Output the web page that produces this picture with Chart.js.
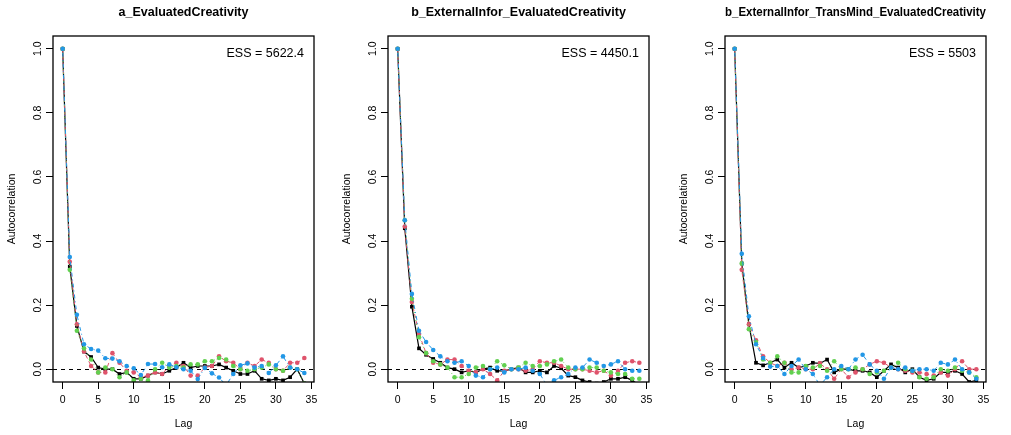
<!DOCTYPE html>
<html>
<head>
<meta charset="utf-8">
<script src="https://cdn.jsdelivr.net/npm/chart.js@4"></script>
<style>
  body { margin: 0; background: #fff; width: 1011px; height: 435px; position: relative; overflow: hidden; }
  canvas { position: absolute; top: 0; }
</style>
</head>
<body>
<canvas id="c1" width="337" height="435" style="left:0px"></canvas>
<canvas id="c2" width="337" height="435" style="left:335px"></canvas>
<canvas id="c3" width="337" height="435" style="left:672px"></canvas>
<script>
const lags = [0,1,2,3,4,5,6,7,8,9,10,11,12,13,14,15,16,17,18,19,20,21,22,23,24,25,26,27,28,29,30,31,32,33,34];
const xTicks = [0, 5, 10, 15, 20, 25, 30, 35];
const yTicks = [0, 0.2, 0.4, 0.6, 0.8, 1.0];
const yTickLabels = ["0.0", "0.2", "0.4", "0.6", "0.8", "1.0"];
const titles = ["a_EvaluatedCreativity", "b_ExternalInfor_EvaluatedCreativity", "b_ExternalInfor_TransMind_EvaluatedCreativity"];
const essLabels = ["ESS = 5622.4", "ESS = 4450.1", "ESS = 5503"];

// panel a
const aBlack = [1,0.32,0.135,0.055,0.038,0.005,0,0,-0.015,-0.01,-0.03,-0.03,-0.02,-0.01,-0.015,-0.005,0.005,0.02,0.005,0.01,0.01,0.01,0.015,0.005,-0.005,-0.015,-0.015,-0.005,-0.03,-0.035,-0.03,-0.035,-0.025,0,-0.045];
const aRed   = [1,0.335,0.14,0.055,0.01,-0.01,-0.01,0.05,0.02,-0.005,-0.01,-0.025,-0.02,-0.01,-0.015,0.01,0.02,0.01,-0.02,-0.02,0.005,0.01,0.04,0.025,0.02,0,0.02,0.01,0.03,0.02,0,-0.005,0.02,0.02,0.035];
const aGreen = [1,0.31,0.12,0.065,0.03,-0.01,0.005,0,-0.025,-0.01,-0.035,-0.03,-0.035,0,0.02,0.005,0.01,0.005,0.015,0.015,0.025,0.025,0.035,0.03,0.01,0,-0.005,0,0.005,0.015,0,-0.005,0.005,0,-0.045];
const aBlue  = [1,0.35,0.17,0.078,0.063,0.058,0.034,0.033,0.025,0.01,0.003,-0.018,0.016,0.016,0.006,0.015,0.006,0,-0.005,-0.031,0.004,-0.013,-0.026,-0.05,-0.015,0.012,0.018,0.005,0.01,-0.012,0.012,0.04,0.005,0,-0.012];
// panel b
const bBlack = [1,0.44,0.195,0.065,0.045,0.032,0.02,0.005,0,-0.01,-0.005,-0.01,0,0.005,-0.005,-0.005,0,0.005,-0.01,-0.01,-0.005,-0.01,0.01,0.003,-0.02,-0.025,-0.035,-0.04,-0.045,-0.04,-0.03,-0.03,-0.025,-0.035,-0.05];
const bRed   = [1,0.445,0.21,0.11,0.05,0.02,0.015,0.03,0.03,0.01,-0.005,-0.01,0,-0.015,-0.035,-0.005,0,0,-0.005,0,0.025,0.02,0.02,0.01,0,0,0,-0.005,-0.01,-0.005,-0.02,-0.005,0.02,0.025,0.02];
const bGreen = [1,0.465,0.22,0.1,0.05,0.025,0.015,0.005,-0.025,-0.025,-0.015,0.005,0.01,0,0.025,0.012,0,0.005,0.02,0.01,0.01,0.015,0.025,0.03,0.005,0,0,0.005,0.005,-0.005,-0.01,-0.015,-0.015,-0.03,-0.03];
const bBlue  = [1,0.465,0.235,0.12,0.085,0.06,0.04,0.025,0.02,0.025,0.01,-0.02,-0.025,0,0.005,-0.01,0,0,0.005,-0.005,-0.015,-0.05,-0.035,-0.025,-0.015,0.005,0.005,0.03,0.02,0.01,0.015,0.025,0,-0.005,-0.005];
// panel c
const cBlack = [1,0.33,0.14,0.02,0.012,0.02,0.03,0.005,0.02,0.005,0.01,0.02,0.018,0.03,-0.01,0,0,-0.005,-0.005,-0.01,-0.025,-0.005,0.015,0.005,-0.01,0,-0.025,-0.035,-0.03,-0.01,-0.01,-0.005,-0.015,-0.04,-0.035];
const cRed   = [1,0.31,0.14,0.09,0.04,0.02,0.01,0.02,0,0.005,0,0,0.018,0,-0.03,0,-0.025,-0.01,0,0.015,0.025,0.02,0.005,0,-0.005,-0.01,-0.01,-0.015,-0.02,-0.01,-0.02,0,0.025,0,0];
const cGreen = [1,0.33,0.125,0.085,0.03,0.02,0.04,0.02,-0.01,-0.01,0.01,0.005,0.01,-0.005,0.025,0,0,0.005,0,-0.015,-0.01,-0.005,0.005,0.02,0,-0.005,-0.025,-0.03,-0.025,0,-0.005,0.005,-0.005,-0.01,-0.025];
const cBlue  = [1,0.36,0.165,0.078,0.035,0.008,0.01,-0.015,0.01,0.03,0,-0.015,-0.05,-0.025,0,0.01,0,0.03,0.045,0.015,-0.005,-0.03,0.005,0,0.005,-0.005,0,0,-0.005,0.02,0.015,0.03,0,-0.01,-0.03];

const FONT = "'Liberation Sans', Arial, sans-serif";

const chainStyles = [
  { color: "#000000", dash: [], width: 1.2, point: "rect", radius: 2.6, order: 4 },
  { color: "#DF536B", dash: [4, 3], width: 1, point: "circle", radius: 2.3, order: 3 },
  { color: "#61D04F", dash: [1, 3], width: 1, point: "circle", radius: 2.3, order: 2 },
  { color: "#2297E6", dash: [1, 3, 4, 3], width: 1, point: "circle", radius: 2.3, order: 1 },
];

const acfDecor = {
  id: "acfDecor",
  beforeDatasetsDraw(chart) {
    const { ctx, chartArea: a, scales: { y } } = chart;
    const py = Math.round(y.getPixelForValue(0)) + 0.5;
    ctx.save();
    ctx.strokeStyle = "#000";
    ctx.lineWidth = 1;
    ctx.setLineDash([4, 4]);
    ctx.beginPath();
    ctx.moveTo(a.left, py);
    ctx.lineTo(a.right, py);
    ctx.stroke();
    ctx.restore();
  },
  afterDraw(chart, args, opts) {
    const { ctx, chartArea: a, scales: { y } } = chart;
    ctx.save();
    ctx.strokeStyle = "#000";
    ctx.lineWidth = 1.3;
    ctx.strokeRect(a.left, a.top, a.right - a.left, a.bottom - a.top);
    ctx.fillStyle = "#000";
    ctx.font = "10.5px " + FONT;
    ctx.textAlign = "center";
    ctx.textBaseline = "middle";
    yTicks.forEach((v, i) => {
      ctx.save();
      ctx.translate(a.left - 15, y.getPixelForValue(v));
      ctx.rotate(-Math.PI / 2);
      ctx.fillText(yTickLabels[i], 0, 0);
      ctx.restore();
    });
    ctx.font = "12.5px " + FONT;
    ctx.textAlign = "right";
    ctx.fillText(opts.ess, a.right - 10, a.top + 18);
    ctx.restore();
  }
};

function makePanel(id, title, ess, chains) {
  const datasets = chains.map((vals, i) => {
    const s = chainStyles[i];
    return {
      data: lags.map((l, k) => ({ x: l, y: vals[k] })),
      borderColor: s.color,
      backgroundColor: s.color,
      borderWidth: s.width,
      borderDash: s.dash,
      pointStyle: s.point,
      pointRadius: s.radius,
      pointBorderWidth: 0,
      tension: 0,
      clip: 0,
      order: s.order
    };
  });
  new Chart(document.getElementById(id), {
    type: "line",
    data: { datasets },
    plugins: [acfDecor],
    options: {
      responsive: false,
      animation: false,
      events: [],
      layout: { padding: { left: 0, right: 23, top: 0, bottom: 0 } },
      plugins: {
        legend: { display: false },
        tooltip: { enabled: false },
        title: {
          display: true,
          text: title,
          fullSize: false,
          color: "#000",
          font: { family: FONT, size: 12.5, weight: "bold" },
          padding: { top: 4.8, bottom: 16.2 }
        },
        acfDecor: { ess }
      },
      scales: {
        x: {
          type: "linear",
          min: -1.36,
          max: 35.36,
          afterBuildTicks: s => { s.ticks = xTicks.map(v => ({ value: v })); },
          afterFit: s => { s.height = 53; },
          border: { display: false },
          grid: { drawOnChartArea: false, drawTicks: true, tickLength: 7, color: "#000", lineWidth: 1 },
          ticks: { color: "#000", padding: 4.5, maxRotation: 0, font: { family: FONT, size: 10.5 }, callback: v => String(v) },
          title: { display: true, text: "Lag", color: "#000", font: { family: FONT, size: 10.5 }, padding: { top: 0, bottom: 4.7 } }
        },
        y: {
          type: "linear",
          min: -0.04,
          max: 1.04,
          afterBuildTicks: s => { s.ticks = yTicks.map(v => ({ value: v })); },
          afterFit: s => { s.width = 53; },
          border: { display: false },
          grid: { drawOnChartArea: false, drawTicks: true, tickLength: 7, color: "#000", lineWidth: 1 },
          ticks: { display: false },
          title: { display: true, text: "Autocorrelation", color: "#000", font: { family: FONT, size: 10.5 }, padding: { top: 5.4, bottom: 0 } }
        }
      }
    }
  });
}

makePanel("c1", titles[0], essLabels[0], [aBlack, aRed, aGreen, aBlue]);
makePanel("c2", titles[1], essLabels[1], [bBlack, bRed, bGreen, bBlue]);
makePanel("c3", titles[2], essLabels[2], [cBlack, cRed, cGreen, cBlue]);
</script>
</body>
</html>
